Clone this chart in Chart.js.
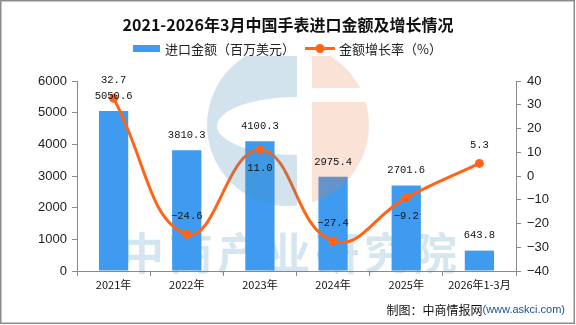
<!DOCTYPE html>
<html>
<head>
<meta charset="utf-8">
<script src="https://cdn.jsdelivr.net/npm/chart.js@4/dist/chart.umd.min.js"></script>
<style>
  html, body { margin: 0; padding: 0; background: #fff; }
  #wrap { width: 576px; height: 325px; }
</style>
</head>
<body>
<div id="wrap"><canvas id="chart" width="576" height="325"></canvas></div>
<script>
// Categories and series
const categories = ['2021年', '2022年', '2023年', '2024年', '2025年', '2026年1-3月'];
const importValue = [5050.6, 3810.3, 4100.3, 2975.4, 2701.6, 643.8];   // 进口金额（百万美元）
const growthRate = [32.7, -24.6, 11.0, -27.4, -9.2, 5.3];               // 金额增长率（%）

// Axis tick values
const valueTicks = [0, 1000, 2000, 3000, 4000, 5000, 6000];
const rateTicks = [-40, -30, -20, -10, 0, 10, 20, 30, 40];

const TITLE = '2021-2026年3月中国手表进口金额及增长情况';
const BAR_NAME = '进口金额（百万美元）';
const LINE_NAME = '金额增长率（%）';

const BAR_COLOR = '#3E9BF0';
const LINE_COLOR = '#FF6418';
const AXIS_COLOR = '#8a8a8a';
const CJK = '"Noto Sans CJK SC", "Noto Sans", sans-serif';
const MONO = '"Liberation Mono", "DejaVu Sans Mono", monospace';

const minus = s => String(s).replace('-', '\u2212');

// Faint brand text, behind the bars
const brandText = {
  id: 'brandText',
  beforeDatasetsDraw(chart) {
    const ctx = chart.ctx;
    const chars = ['中', '商', '产', '业', '研', '究', '院'];
    ctx.save();
    ctx.font = 'bold 44px ' + CJK;
    ctx.fillStyle = 'rgba(70,140,185,0.22)';
    ctx.textAlign = 'center';
    ctx.textBaseline = 'middle';
    chars.forEach((c, i) => ctx.fillText(c, 142 + i * 48.8, 253));
    ctx.restore();
  }
};

// Translucent round logo over the plot
const brandLogo = {
  id: 'brandLogo',
  afterDatasetsDraw(chart) {
    const ctx = chart.ctx;
    const cx = 288, cy = 125, r = 81;
    ctx.save();
    ctx.beginPath();
    ctx.rect(0, 56, 576, 269);
    ctx.clip();
    // blue "C"
    ctx.save();
    ctx.beginPath();
    ctx.rect(0, 0, 297, 325);
    ctx.clip();
    ctx.beginPath();
    ctx.arc(cx, cy, r, 0, Math.PI * 2);
    ctx.ellipse(297, 126, 80, 29, 0, 0, Math.PI * 2);
    ctx.fillStyle = 'rgba(70,140,185,0.24)';
    ctx.fill('evenodd');
    ctx.restore();
    // peach half with a white band
    ctx.save();
    ctx.beginPath();
    ctx.rect(312, 0, 264, 88);
    ctx.rect(312, 102, 264, 223);
    ctx.clip();
    ctx.beginPath();
    ctx.arc(cx, cy, r, 0, Math.PI * 2);
    ctx.fillStyle = 'rgba(238,125,70,0.22)';
    ctx.fill();
    ctx.restore();
    ctx.restore();
  }
};

// Value labels for bars and line points
const valueLabels = {
  id: 'valueLabels',
  afterDatasetsDraw(chart) {
    const ctx = chart.ctx;
    const barMeta = chart.getDatasetMeta(0);
    const lineMeta = chart.getDatasetMeta(1);
    ctx.save();
    ctx.font = '10.5px ' + MONO;
    ctx.fillStyle = '#111';
    ctx.textAlign = 'center';
    ctx.textBaseline = 'middle';
    const barLabelY = [];
    barMeta.data.forEach((bar, i) => {
      const y = bar.y - 15;
      barLabelY.push(y);
      ctx.fillText(importValue[i].toFixed(1), bar.x, y);
    });
    lineMeta.data.forEach((pt, i) => {
      let y = pt.y - 18;
      if (Math.abs(y - barLabelY[i]) < 14) y = pt.y + 18;
      ctx.fillText(minus(growthRate[i].toFixed(1)), pt.x, y);
    });
    ctx.restore();
  }
};

// Title, legend, source note and frame
const frame = {
  id: 'frame',
  afterDraw(chart) {
    const ctx = chart.ctx;
    ctx.save();
    ctx.fillStyle = '#111';
    ctx.textBaseline = 'middle';
    ctx.textAlign = 'center';
    ctx.font = 'bold 16px ' + CJK;
    ctx.fillText(TITLE, 288, 25);

    // legend
    ctx.fillStyle = BAR_COLOR;
    ctx.fillRect(133, 45, 27, 7);
    ctx.strokeStyle = LINE_COLOR;
    ctx.lineWidth = 3;
    ctx.beginPath();
    ctx.moveTo(305, 48.5);
    ctx.lineTo(335, 48.5);
    ctx.stroke();
    ctx.fillStyle = LINE_COLOR;
    ctx.beginPath();
    ctx.arc(320, 48.5, 4.5, 0, Math.PI * 2);
    ctx.fill();
    ctx.fillStyle = '#222';
    ctx.textAlign = 'left';
    ctx.font = '13px ' + CJK;
    ctx.fillText(BAR_NAME, 165, 49);
    ctx.fillText(LINE_NAME, 339, 49);

    // source
    ctx.textAlign = 'right';
    ctx.font = '11px "Liberation Sans", Arial, sans-serif';
    ctx.fillStyle = '#1d4f9c';
    ctx.fillText('(www.askci.com)', 565, 310);
    const w = ctx.measureText('(www.askci.com)').width;
    ctx.font = '12px ' + CJK;
    ctx.fillStyle = '#111';
    ctx.fillText('制图：中商情报网', 565 - w, 310);

    // frame
    ctx.strokeStyle = '#8c8c8c';
    ctx.lineWidth = 1.5;
    ctx.strokeRect(0.75, 0.75, 573.5, 322.5);
    ctx.restore();
  }
};

new Chart(document.getElementById('chart'), {
  data: {
    labels: categories,
    datasets: [
      {
        type: 'bar',
        label: BAR_NAME,
        data: importValue,
        yAxisID: 'y',
        backgroundColor: BAR_COLOR,
        barPercentage: 0.4,
        categoryPercentage: 1.0,
        order: 2
      },
      {
        type: 'line',
        label: LINE_NAME,
        data: growthRate,
        yAxisID: 'y1',
        borderColor: LINE_COLOR,
        backgroundColor: LINE_COLOR,
        borderWidth: 3,
        pointRadius: 4.5,
        pointBorderWidth: 0,
        pointBackgroundColor: LINE_COLOR,
        tension: 0.45,
        order: 1
      }
    ]
  },
  options: {
    responsive: false,
    animation: false,
    devicePixelRatio: 1,
    layout: { padding: { top: 81, left: 0, right: 0, bottom: 0 } },
    plugins: {
      legend: { display: false },
      title: { display: false },
      tooltip: { enabled: false }
    },
    scales: {
      x: {
        offset: true,
        grid: { offset: true, drawOnChartArea: false, drawTicks: true, tickLength: 5, color: AXIS_COLOR },
        border: { color: AXIS_COLOR, width: 1 },
        ticks: { color: '#111', font: { size: 11, family: CJK }, padding: 2, maxRotation: 0, autoSkip: false },
        afterFit: s => { s.height = 54; }
      },
      y: {
        position: 'left',
        min: valueTicks[0],
        max: valueTicks[valueTicks.length - 1],
        afterBuildTicks: s => { s.ticks = valueTicks.map(v => ({ value: v })); },
        grid: { drawOnChartArea: false, drawTicks: true, tickLength: 5, color: AXIS_COLOR },
        border: { color: AXIS_COLOR, width: 1 },
        ticks: { color: '#222', font: { size: 13, family: '"Liberation Sans", Arial, sans-serif' }, padding: 5, callback: v => String(v) },
        afterFit: s => { s.width = 77; }
      },
      y1: {
        position: 'right',
        min: rateTicks[0],
        max: rateTicks[rateTicks.length - 1],
        afterBuildTicks: s => { s.ticks = rateTicks.map(v => ({ value: v })); },
        grid: { drawOnChartArea: false, drawTicks: true, tickLength: 5, color: AXIS_COLOR },
        border: { color: AXIS_COLOR, width: 1 },
        ticks: { color: '#222', font: { size: 13, family: '"Liberation Sans", Arial, sans-serif' }, padding: 6, callback: v => minus(v) },
        afterFit: s => { s.width = 60; }
      }
    }
  },
  plugins: [brandText, brandLogo, valueLabels, frame]
});
</script>
</body>
</html>
